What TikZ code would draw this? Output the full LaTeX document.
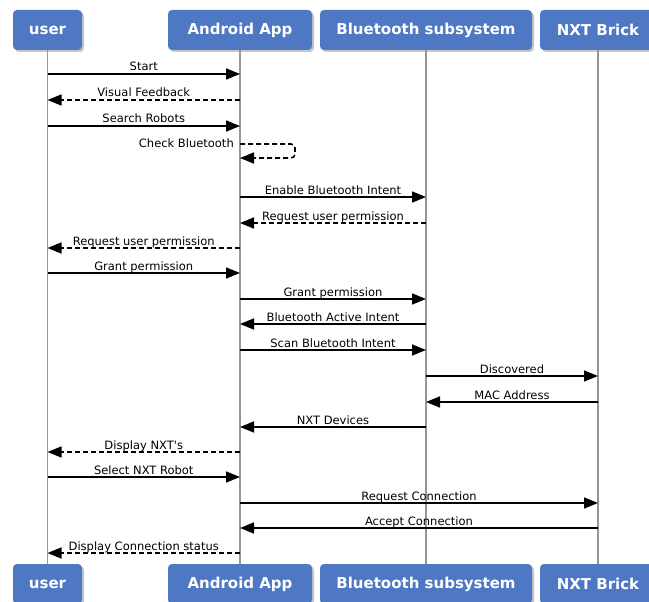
\documentclass[tikz,border=0pt]{standalone}
\usepackage{fontspec}
\setmainfont{DejaVu Sans}
\usepackage{tikz}
\usetikzlibrary{arrows.meta,shadows}
\definecolor{boxblue}{RGB}{79,120,196}
\definecolor{lifegray}{RGB}{150,150,150}

\begin{document}
\begin{tikzpicture}[x=1pt,y=-1pt,
  actor/.style={draw=none,fill=boxblue,rounded corners=4pt,text=white,
    font=\fontsize{15}{17}\selectfont\bfseries,minimum height=40pt,
    drop shadow={opacity=0.45,shadow xshift=2pt,shadow yshift=-2pt}},
  lifeline/.style={draw=lifegray,line width=1.6pt},
  msg/.style={line width=1.6pt,-{Triangle[length=14pt,width=11pt]}},
  reply/.style={msg,dash pattern=on 5pt off 3pt},
  lbl/.style={font=\fontsize{11.5}{13}\selectfont,inner sep=0pt}]
\useasboundingbox (0,0) rectangle (649,602);

% Actors at the top
\node[actor,minimum width=69pt]  (user) at (47.5,30) {user};
\node[actor,minimum width=144pt] (app)  at (240,30)  {Android App};
\node[actor,minimum width=212pt] (bt)   at (426,30)  {Bluetooth subsystem};
\node[actor,minimum width=116pt] (nxt)  at (598,30)  {NXT Brick};

% Actors at the bottom
\node[actor,minimum width=69pt]  (userB) at (47.5,584) {user};
\node[actor,minimum width=144pt] (appB)  at (240,584)  {Android App};
\node[actor,minimum width=212pt] (btB)   at (426,584)  {Bluetooth subsystem};
\node[actor,minimum width=116pt] (nxtB)  at (598,584)  {NXT Brick};

% Lifelines
\foreach \a in {user,app,bt,nxt}
  \draw[lifeline] (\a.south) -- (\a B.north);

% Messages
\foreach \y/\from/\to/\txt/\st in {
    74/user/app/Start/msg,
    100/app/user/Visual Feedback/reply,
    126/user/app/Search Robots/msg,
    197/app/bt/Enable Bluetooth Intent/msg,
    223/bt/app/Request user permission/reply,
    248/app/user/Request user permission/reply,
    273/user/app/Grant permission/msg,
    299/app/bt/Grant permission/msg,
    324/bt/app/Bluetooth Active Intent/msg,
    350/app/bt/Scan Bluetooth Intent/msg,
    376/bt/nxt/Discovered/msg,
    402/nxt/bt/MAC Address/msg,
    427/bt/app/NXT Devices/msg,
    452/app/user/Display NXT\textquotesingle s/reply,
    477/user/app/Select NXT Robot/msg,
    503/app/nxt/Request Connection/msg,
    528/nxt/app/Accept Connection/msg,
    553/app/user/Display Connection status/reply}
  \draw[\st] (\from |- 0,\y) -- (\to |- 0,\y)
    node[lbl,midway,anchor=base,yshift=3pt]{\txt};

% Self message
\draw[reply,rounded corners=4pt] (app |- 0,144) -- ++(55,0) -- ++(0,14) -- (app |- 0,158);
\node[lbl,anchor=base east] (chk) at ([xshift=-6pt]app |- 0,147) {Check Bluetooth};
\end{tikzpicture}
\end{document}
